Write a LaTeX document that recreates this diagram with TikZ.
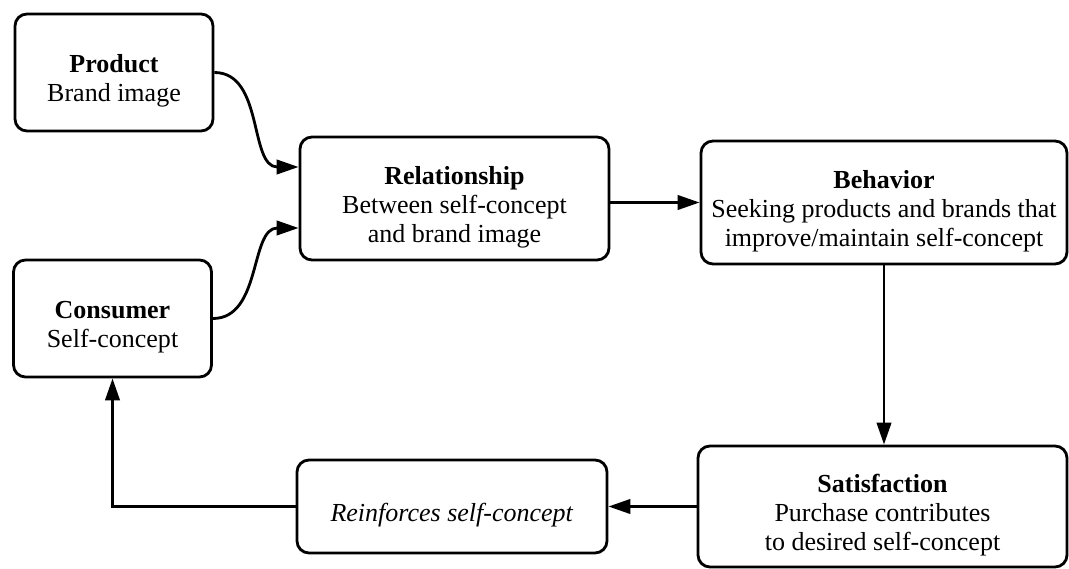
\documentclass[tikz,border=0pt]{standalone}
\usepackage{fontspec}
\setmainfont{Liberation Serif}
\usepackage{tikz}
\usetikzlibrary{arrows.meta}
\usetikzlibrary{calc}

\newcommand{\tstrut}{\rule{0pt}{25pt}}

\begin{document}
\begin{tikzpicture}[x = 0.25mm, y = -0.25mm]
			\useasboundingbox (0, 0) rectangle (1069, 568);
			
			\begin{scope}[every node/.style={rectangle, draw, line width = 2pt, rounded corners = 3mm, align = center, font = \fontsize{18.5}{20.5}\selectfont}]
			\node (0) [minimum width = 4.95cm, minimum height = 2.925cm] at (114, 72.5) {\tstrut\textbf{Product}\\Brand image};
			\node (1) [minimum width = 4.95cm, minimum height = 2.925cm] at (112.5, 318.5) {\tstrut\textbf{Consumer}\\Self-concept};
			\node (2) [minimum width = 7.725cm, minimum height = 3.075cm] at (454.5, 198.5) {\tstrut\textbf{Relationship}\\Between self-concept\\and brand image};
			\node (3) [minimum width = 9.15cm, minimum height = 3.075cm] at (884, 202.5) {\tstrut\textbf{Behavior}\\Seeking products and brands that\\improve/maintain self-concept};
			\node (4) [minimum width = 9.225cm, minimum height = 3.025cm] at (882.5, 506.5) {\tstrut\textbf{Satisfaction}\\Purchase contributes\\to desired self-concept};
			\node (5) [minimum width = 7.75cm, minimum height = 2.325cm] at (452, 506.5) {\tstrut\textit{Reinforces self-concept}};
			\end{scope}
			
			\begin{scope}[line width = 2pt, >={Triangle[length = 5.5mm, width = 3.6mm]}]
			\draw [->] (0.east) to [out = 0, in = 180] ($(2.west) + (0, -31.5)$);
			\draw [->] (1.east) to [out = 0, in = 180] ($(2.west) + (0, 29.5)$);
			\draw [->] (2.east |- 3.west) -- (3.west);
			\draw [->] (3.south) -- (3.south |- 4.north);
			\draw [->] (4.west) -- (5.east);
			\draw [->] (5.west) -| (1.south);
			\end{scope}
			
			\end{tikzpicture}
\end{document}
